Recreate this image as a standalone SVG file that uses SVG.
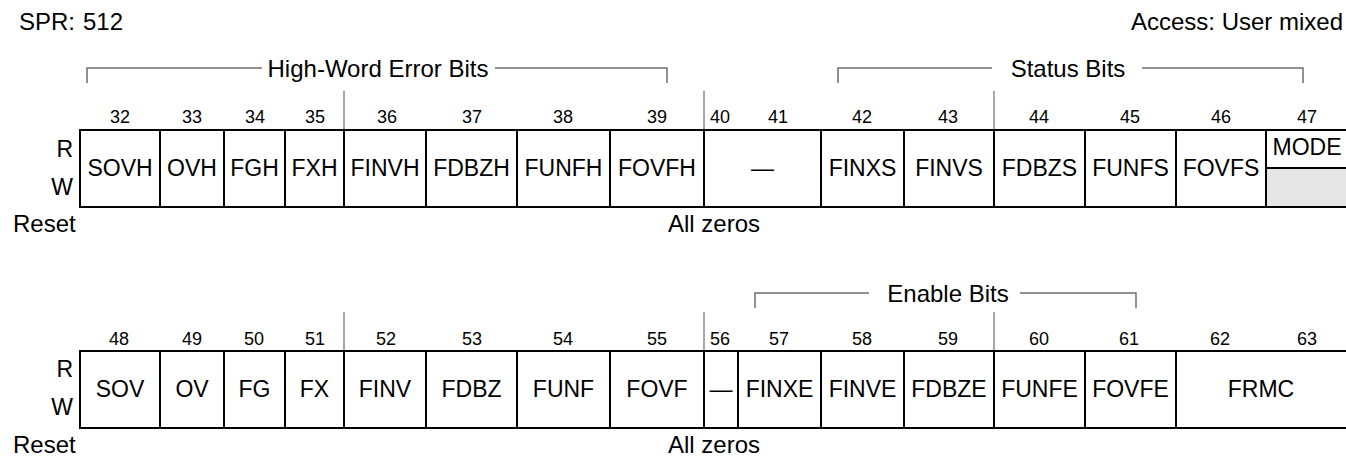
<svg xmlns="http://www.w3.org/2000/svg" width="1346" height="456" viewBox="0 0 1346 456">
<style>
text{font-family:"Liberation Sans",Arial,Helvetica,sans-serif;fill:#000}
.t{font-size:24px}
.e{font-size:24px;text-anchor:end}
.m{font-size:24px;text-anchor:middle}
.c{font-size:23px;text-anchor:middle}
.n{font-size:18px;text-anchor:middle}
.r{font-size:23px;text-anchor:end}
.box{fill:none;stroke:#000;stroke-width:2}
.div{stroke:#000;stroke-width:2}
.br{fill:none;stroke:#6e6e6e;stroke-width:1.5}
.tk{stroke:#8a8a8a;stroke-width:1.5}
</style>
<rect width="1346" height="456" fill="#fff"/>
<g id="header">
<text class="t" x="19" y="30">SPR:</text>
<text class="e" x="123" y="30">512</text>
<text class="e" x="1343" y="30">Access: User mixed</text>
</g>
<g id="connectors">
<path class="br" d="M87 83V68H262M495 68H667V83"/>
<path class="br" d="M838 83V68H992M1142 68H1303V83"/>
<path class="br" d="M755 308V293H869M1020 293H1136V308"/>
<path class="tk" d="M344 91V130M704 91V130M994 91V130M344 312V351M704 312V351M994 312V351"/>
</g>
<g id="bracket-labels">
<text class="m" x="378" y="77">High-Word Error Bits</text>
<text class="m" x="1068" y="77">Status Bits</text>
<text class="m" x="948" y="302">Enable Bits</text>
</g>
<g id="register1">
<rect x="1266" y="168" width="81" height="39" fill="#e6e6e6"/>
<rect class="box" x="80" y="130" width="1267" height="77"/>
<path class="div" d="M160 130V207M224 130V207M285 130V207M344 130V207M426 130V207M517 130V207M610 130V207M704 130V207M821 130V207M904 130V207M994 130V207M1085 130V207M1176 130V207M1266 130V207M1266 168H1347"/>
<text class="n" x="120" y="123">32</text><text class="n" x="192" y="123">33</text><text class="n" x="255" y="123">34</text><text class="n" x="315" y="123">35</text><text class="n" x="387" y="123">36</text><text class="n" x="472" y="123">37</text><text class="n" x="563" y="123">38</text><text class="n" x="657" y="123">39</text><text class="n" x="720" y="123">40</text><text class="n" x="778" y="123">41</text><text class="n" x="862" y="123">42</text><text class="n" x="948" y="123">43</text><text class="n" x="1039" y="123">44</text><text class="n" x="1130" y="123">45</text><text class="n" x="1221" y="123">46</text><text class="n" x="1307" y="123">47</text>
<text class="r" x="73" y="157">R</text>
<text class="r" x="73" y="195">W</text>
<text class="c" x="120" y="176">SOVH</text><text class="c" x="192" y="176">OVH</text><text class="c" x="254.5" y="176">FGH</text><text class="c" x="314.5" y="176">FXH</text><text class="c" x="385" y="176">FINVH</text><text class="c" x="471.5" y="176">FDBZH</text><text class="c" x="563.5" y="176">FUNFH</text><text class="c" x="657" y="176">FOVFH</text><text class="c" x="762.5" y="176">—</text><text class="c" x="862.5" y="176">FINXS</text><text class="c" x="949" y="176">FINVS</text><text class="c" x="1039.5" y="176">FDBZS</text><text class="c" x="1130.5" y="176">FUNFS</text><text class="c" x="1221" y="176">FOVFS</text><text class="c" x="1307" y="155">MODE</text>
<text class="t" x="13" y="232">Reset</text>
<text class="m" x="714" y="232">All zeros</text>
</g>
<g id="register2">
<rect class="box" x="80" y="351" width="1267" height="77"/>
<path class="div" d="M160 351V428M224 351V428M285 351V428M344 351V428M426 351V428M517 351V428M610 351V428M704 351V428M738 351V428M821 351V428M904 351V428M994 351V428M1085 351V428M1176 351V428"/>
<text class="n" x="119" y="345">48</text><text class="n" x="192" y="345">49</text><text class="n" x="254" y="345">50</text><text class="n" x="315" y="345">51</text><text class="n" x="386" y="345">52</text><text class="n" x="472" y="345">53</text><text class="n" x="563" y="345">54</text><text class="n" x="657" y="345">55</text><text class="n" x="720" y="345">56</text><text class="n" x="779" y="345">57</text><text class="n" x="862" y="345">58</text><text class="n" x="948" y="345">59</text><text class="n" x="1039" y="345">60</text><text class="n" x="1129" y="345">61</text><text class="n" x="1220" y="345">62</text><text class="n" x="1307" y="345">63</text>
<text class="r" x="73" y="377">R</text>
<text class="r" x="73" y="415">W</text>
<text class="c" x="120" y="397">SOV</text><text class="c" x="192" y="397">OV</text><text class="c" x="254.5" y="397">FG</text><text class="c" x="314.5" y="397">FX</text><text class="c" x="385" y="397">FINV</text><text class="c" x="471.5" y="397">FDBZ</text><text class="c" x="563.5" y="397">FUNF</text><text class="c" x="657" y="397">FOVF</text><text class="c" x="721" y="397">—</text><text class="c" x="779.5" y="397">FINXE</text><text class="c" x="862.5" y="397">FINVE</text><text class="c" x="949" y="397">FDBZE</text><text class="c" x="1039.5" y="397">FUNFE</text><text class="c" x="1130.5" y="397">FOVFE</text><text class="c" x="1261" y="397">FRMC</text>
<text class="t" x="13" y="453">Reset</text>
<text class="m" x="714" y="453">All zeros</text>
</g>
</svg>
